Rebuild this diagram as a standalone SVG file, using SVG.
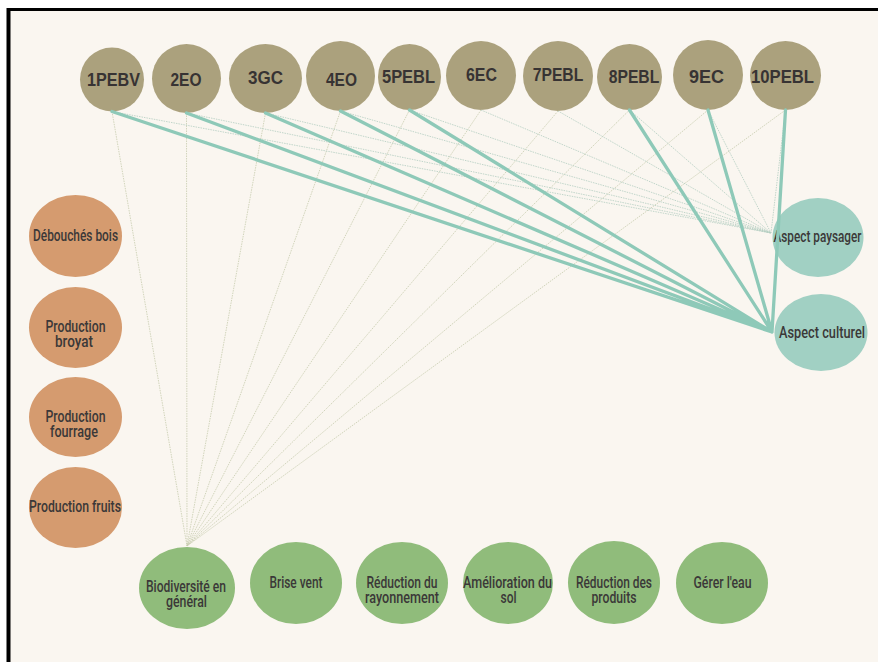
<svg xmlns="http://www.w3.org/2000/svg" width="878" height="662" viewBox="0 0 878 662">
<defs>
<style>
.top{fill:#aba17d}
.left{fill:#d59b6f}
.right{fill:#a1d0c3}
.bottom{fill:#90bc7b}
.tl{font-family:"Liberation Sans",Arial,sans-serif;font-weight:bold;font-size:17.5px;fill:#373333;text-anchor:middle}
.cl{font-family:Roboto,"Liberation Sans",sans-serif;font-weight:500;font-size:16.5px;fill:#3b3838;text-anchor:middle}
.thick{stroke:#8ec9b8;stroke-width:3.3;fill:none;stroke-linecap:round}
.thinA{stroke:#b2cdc0;stroke-width:0.8;fill:none;stroke-dasharray:1.5 1}
.thinB{stroke:#c6ccad;stroke-width:0.8;fill:none;stroke-dasharray:1.5 1}
</style>
</defs>
<rect x="0" y="0" width="878" height="662" fill="#ffffff"/>
<rect x="6.5" y="8" width="871.5" height="654" fill="#000000"/>
<rect x="10.5" y="11" width="867.5" height="651" fill="#faf6f0"/>

<g id="n1PEBV"><ellipse class="top" cx="112" cy="79.5" rx="32" ry="32"/><text class="tl" x="113.5" y="86" textLength="53" lengthAdjust="spacingAndGlyphs">1PEBV</text></g>
<g id="n2EO"><ellipse class="top" cx="186.5" cy="78.5" rx="34.5" ry="34.5"/><text class="tl" x="186" y="85.7" textLength="31" lengthAdjust="spacingAndGlyphs">2EO</text></g>
<g id="n3GC"><ellipse class="top" cx="265.5" cy="78.5" rx="36.5" ry="34.5"/><text class="tl" x="265.5" y="84" textLength="35" lengthAdjust="spacingAndGlyphs">3GC</text></g>
<g id="n4EO"><ellipse class="top" cx="340.5" cy="76" rx="34.5" ry="35"/><text class="tl" x="341.5" y="85.7" textLength="31" lengthAdjust="spacingAndGlyphs">4EO</text></g>
<g id="n5PEBL"><ellipse class="top" cx="409.5" cy="77" rx="31.5" ry="33"/><text class="tl" x="408.5" y="82.7" textLength="53" lengthAdjust="spacingAndGlyphs">5PEBL</text></g>
<g id="n6EC"><ellipse class="top" cx="481" cy="75.5" rx="35" ry="34.5"/><text class="tl" x="481.5" y="81" textLength="31" lengthAdjust="spacingAndGlyphs">6EC</text></g>
<g id="n7PEBL"><ellipse class="top" cx="558" cy="76" rx="35" ry="35"/><text class="tl" x="558" y="81" textLength="50.5" lengthAdjust="spacingAndGlyphs">7PEBL</text></g>
<g id="n8PEBL"><ellipse class="top" cx="629.5" cy="77" rx="32.5" ry="33"/><text class="tl" x="634" y="82.7" textLength="50.5" lengthAdjust="spacingAndGlyphs">8PEBL</text></g>
<g id="n9EC"><ellipse class="top" cx="708" cy="75" rx="35" ry="35"/><text class="tl" x="706.5" y="82.7" textLength="35" lengthAdjust="spacingAndGlyphs">9EC</text></g>
<g id="n10PEBL"><ellipse class="top" cx="785.5" cy="75.5" rx="35.5" ry="34.5"/><text class="tl" x="782.5" y="82.7" textLength="63" lengthAdjust="spacingAndGlyphs">10PEBL</text></g>

<g id="debouches-bois"><ellipse class="left" cx="75.5" cy="236" rx="46.5" ry="41"/><text class="cl" x="75.5" y="240.5" textLength="85" lengthAdjust="spacingAndGlyphs">Débouchés bois</text></g>
<g id="production-broyat"><ellipse class="left" cx="75.5" cy="327.5" rx="46.5" ry="40.5"/><text class="cl" x="75.5" y="331.5" textLength="60" lengthAdjust="spacingAndGlyphs">Production</text><text class="cl" x="74" y="346.5" textLength="38" lengthAdjust="spacingAndGlyphs">broyat</text></g>
<g id="production-fourrage"><ellipse class="left" cx="75.5" cy="417" rx="46.5" ry="40"/><text class="cl" x="75.5" y="421.5" textLength="60" lengthAdjust="spacingAndGlyphs">Production</text><text class="cl" x="74" y="436.5" textLength="48" lengthAdjust="spacingAndGlyphs">fourrage</text></g>
<g id="production-fruits"><ellipse class="left" cx="75.5" cy="507.5" rx="46.5" ry="40.5"/><text class="cl" x="75" y="511.7" textLength="92" lengthAdjust="spacingAndGlyphs">Production fruits</text></g>

<g id="aspect-paysager"><ellipse class="right" cx="818" cy="237.5" rx="45.5" ry="39.5"/><text class="cl" x="817.5" y="241.7" textLength="88" lengthAdjust="spacingAndGlyphs">Aspect paysager</text></g>
<g id="aspect-culturel"><ellipse class="right" cx="821" cy="332.5" rx="46.5" ry="38.5"/><text class="cl" x="822" y="338" textLength="86" lengthAdjust="spacingAndGlyphs">Aspect culturel</text></g>

<g id="biodiversite"><ellipse class="bottom" cx="187" cy="588" rx="48" ry="41"/><text class="cl" x="186" y="591.7" textLength="80" lengthAdjust="spacingAndGlyphs">Biodiversité en</text><text class="cl" x="186.5" y="606.7" textLength="41" lengthAdjust="spacingAndGlyphs">général</text></g>
<g id="brise-vent"><ellipse class="bottom" cx="296" cy="583" rx="46" ry="41"/><text class="cl" x="296" y="587.5" textLength="53" lengthAdjust="spacingAndGlyphs">Brise vent</text></g>
<g id="reduction-rayonnement"><ellipse class="bottom" cx="402" cy="583" rx="46" ry="41"/><text class="cl" x="402" y="588" textLength="71" lengthAdjust="spacingAndGlyphs">Réduction du</text><text class="cl" x="402" y="603" textLength="74" lengthAdjust="spacingAndGlyphs">rayonnement</text></g>
<g id="amelioration-sol"><ellipse class="bottom" cx="508" cy="583" rx="45" ry="41"/><text class="cl" x="507.5" y="588" textLength="89" lengthAdjust="spacingAndGlyphs">Amélioration du</text><text class="cl" x="508.5" y="603" textLength="16" lengthAdjust="spacingAndGlyphs">sol</text></g>
<g id="reduction-produits"><ellipse class="bottom" cx="614" cy="582.5" rx="46" ry="41.5"/><text class="cl" x="614" y="587.5" textLength="76" lengthAdjust="spacingAndGlyphs">Réduction des</text><text class="cl" x="614" y="602.5" textLength="45" lengthAdjust="spacingAndGlyphs">produits</text></g>
<g id="gerer-eau"><ellipse class="bottom" cx="722" cy="583" rx="46" ry="41"/><text class="cl" x="722.5" y="587.5" textLength="58" lengthAdjust="spacingAndGlyphs">Gérer l'eau</text></g>

<g id="connectors">
<path class="thinB" d="M112 111.5L187 546M186.5 113L187 546M265.5 113L187 546M340.5 111L187 546M409.5 110L187 546M481 110L187 546M558 111L187 546M629.5 110L187 546M708 110L187 546M785.5 110L187 546"/>
<path class="thinA" d="M112 111.5L771 233M186.5 113L771 233M265.5 113L771 233M340.5 111L771 233M409.5 110L771 233M481 110L771 233M558 111L771 233M629.5 110L771 233M708 110L771 233M785.5 110L771 233"/>
<path class="thick" d="M112 111.5L772 332M186.5 113L772 332M265.5 113L772 332M340.5 111L772 332M409.5 110L772 332M629.5 110L772 332M708 110L772 332M785.5 110L772 332"/>
</g>
</svg>
